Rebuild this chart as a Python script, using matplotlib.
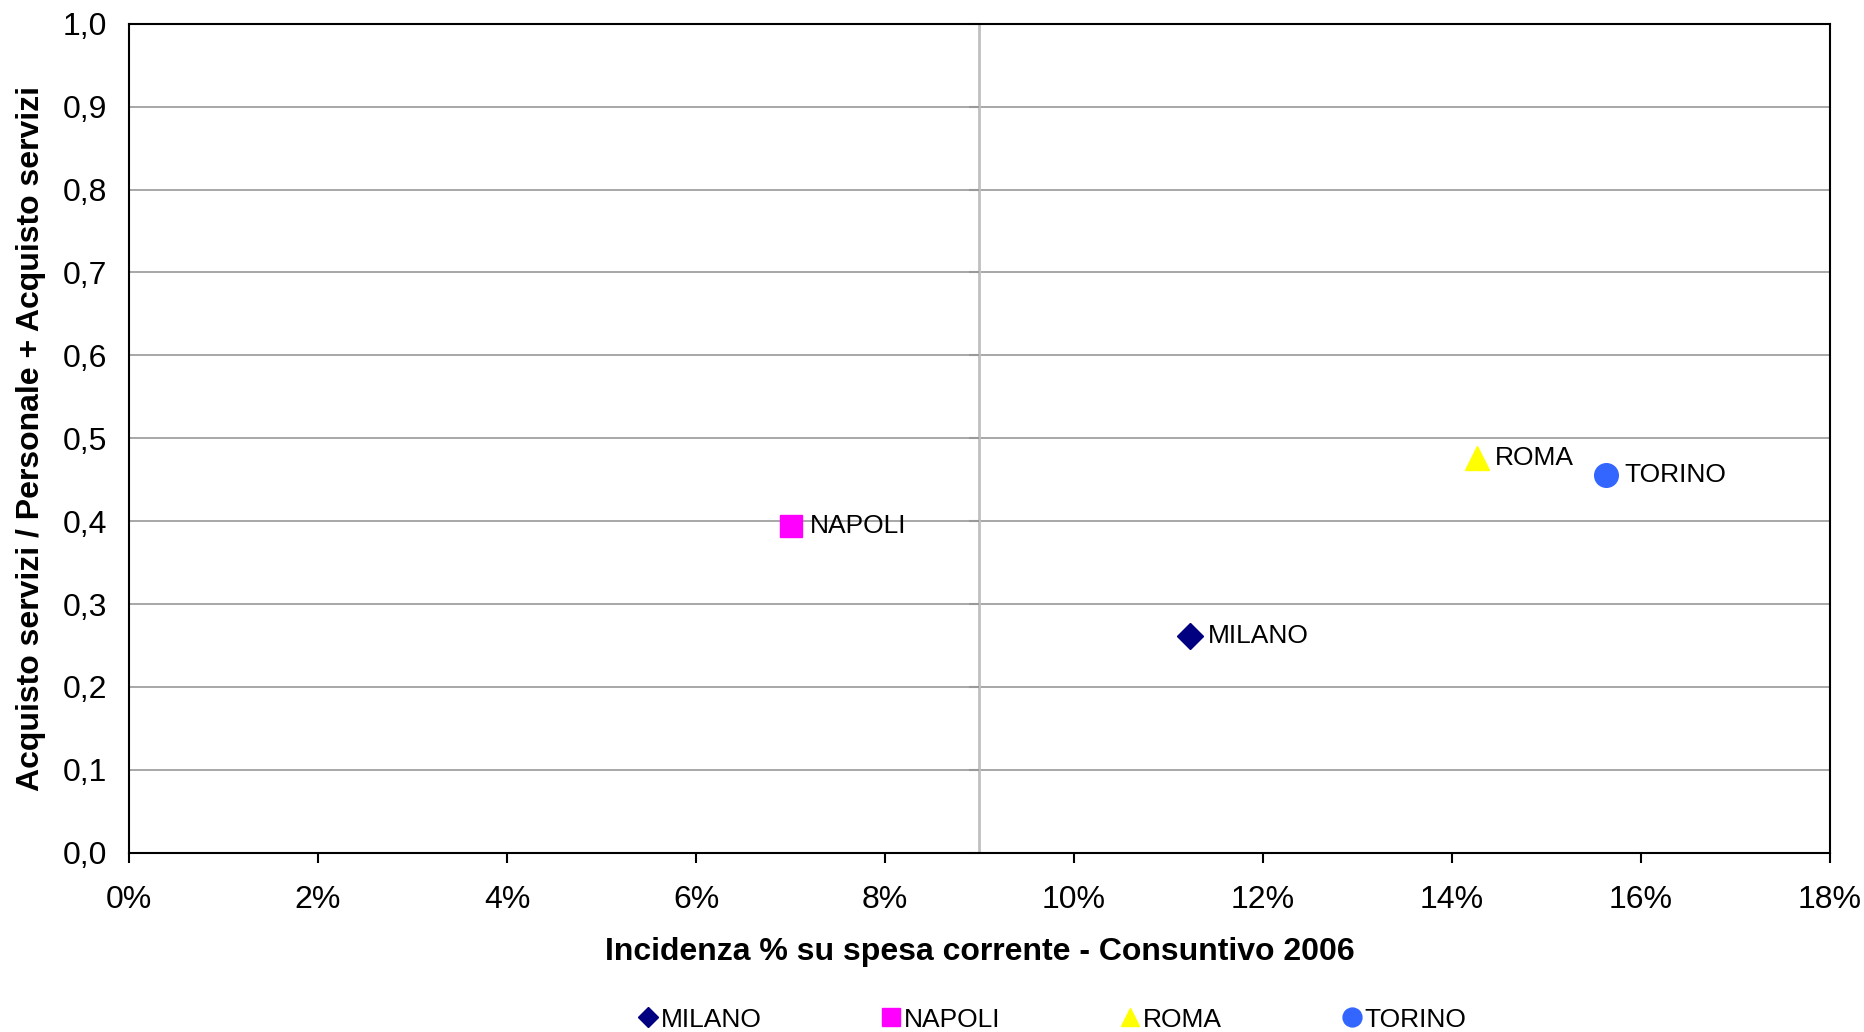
import matplotlib.pyplot as plt
from matplotlib.ticker import FuncFormatter, MultipleLocator

plt.rcParams['font.family'] = ['Liberation Sans', 'DejaVu Sans']

cities = ['MILANO', 'NAPOLI', 'ROMA', 'TORINO']
x_vals = [0.1123, 0.0701, 0.1426, 0.1563]   # incidenza % su spesa corrente
y_vals = [0.261, 0.394, 0.476, 0.456]
markers = ['D', 's', '^', 'o']
sizes = [13, 16, 17, 17]
colors = ['#000080', '#FF00FF', '#FFFF00', '#3366FF']

fig = plt.figure(figsize=(18.65, 10.32), dpi=100)
ax = fig.add_axes([0.0692, 0.1737, 0.9120, 0.8033])

ax.set_xlim(0, 0.18)
ax.set_ylim(0, 1.0)
ax.xaxis.set_major_locator(MultipleLocator(0.02))
ax.yaxis.set_major_locator(MultipleLocator(0.1))
ax.xaxis.set_major_formatter(FuncFormatter(lambda v, p: '%d%%' % round(v * 100)))
ax.yaxis.set_major_formatter(FuncFormatter(lambda v, p: ('%.1f' % v).replace('.', ',')))

ax.yaxis.grid(color='#a0a0a0', linewidth=1.3)
ax.set_axisbelow(True)
ax.axvline(0.09, color='#c0c0c0', linewidth=2, zorder=1)
# small ticks on the crossing axis at 9%
ax.plot([0.09] * 11, [i / 10 for i in range(11)], linestyle='none', marker=0,
        ms=7, mew=1.5, color='#999999', zorder=1, clip_on=False)

for s in ax.spines.values():
    s.set_linewidth(1.5)
ax.tick_params(axis='x', direction='out', length=7, width=1.5, pad=16, labelsize=23)
ax.tick_params(axis='y', length=0, pad=16, labelsize=23)

for c, xv, yv, m, ms, col in zip(cities, x_vals, y_vals, markers, sizes, colors):
    ax.plot([xv], [yv], linestyle='none', marker=m, ms=ms, color=col, label=c, zorder=3)
    ax.annotate(c, (xv, yv), xytext=(13, 0), textcoords='offset points',
                va='center', ha='left', fontsize=19)

ax.set_xlabel('Incidenza % su spesa corrente - Consuntivo 2006', fontsize=23,
              fontweight='bold', labelpad=16)
ax.set_ylabel('Acquisto servizi / Personale + Acquisto servizi', fontsize=23,
              fontweight='bold', labelpad=12)

leg = fig.legend(loc='center', bbox_to_anchor=(0.564, 0.012), ncol=4, frameon=False,
                 fontsize=19, handletextpad=0.1, columnspacing=4.5, markerscale=0.8,
                 handlelength=0.8)

fig.savefig('out.png', dpi=100)
